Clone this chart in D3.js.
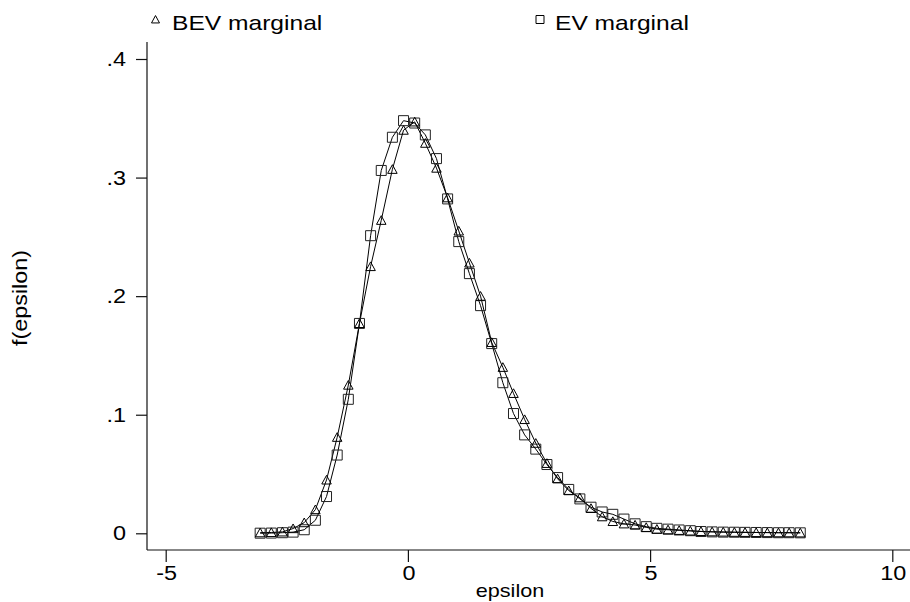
<!DOCTYPE html>
<html>
<head>
<meta charset="utf-8">
<script src="https://cdn.jsdelivr.net/npm/d3@7"></script>
<style>
  html, body { margin: 0; padding: 0; background: #fff; }
  svg { display: block; }
  text { font-family: "Liberation Sans", Arial, Helvetica, sans-serif; fill: #000; }
</style>
</head>
<body>
<script>
// ---- data ----
const epsilon = [-3.05, -2.82, -2.59, -2.37, -2.14, -1.91, -1.68, -1.46, -1.23, -1.00,
                 -0.77, -0.55, -0.32, -0.09, 0.14, 0.36, 0.59, 0.82, 1.05, 1.27,
                 1.50, 1.73, 1.96, 2.18, 2.41, 2.64, 2.87, 3.09, 3.32, 3.55,
                 3.78, 4.01, 4.23, 4.46, 4.69, 4.92, 5.14, 5.37, 5.60, 5.83,
                 6.05, 6.28, 6.51, 6.74, 6.96, 7.19, 7.42, 7.65, 7.87, 8.10];
const bevMarginal = [0.0005, 0.0007, 0.0012, 0.004, 0.009, 0.020, 0.045, 0.081, 0.125, 0.177,
                     0.225, 0.264, 0.307, 0.340, 0.347, 0.329, 0.308, 0.283, 0.255, 0.228,
                     0.200, 0.161, 0.140, 0.118, 0.096, 0.076, 0.059, 0.046, 0.036, 0.030,
                     0.021, 0.014, 0.010, 0.008, 0.007, 0.005, 0.0035, 0.003, 0.0025, 0.002,
                     0.0016, 0.0013, 0.0011, 0.0009, 0.0008, 0.0007, 0.0006, 0.0005, 0.0005, 0.0004];
const evMarginal = [0.0001, 0.0002, 0.0005, 0.001, 0.003, 0.011, 0.031, 0.066, 0.113, 0.177,
                    0.251, 0.306, 0.334, 0.348, 0.346, 0.336, 0.316, 0.282, 0.246, 0.219,
                    0.192, 0.160, 0.127, 0.101, 0.083, 0.071, 0.058, 0.047, 0.037, 0.029,
                    0.022, 0.018, 0.016, 0.012, 0.008, 0.0056, 0.0042, 0.0035, 0.0028, 0.0022,
                    0.0015, 0.0012, 0.0010, 0.0009, 0.0008, 0.0007, 0.0006, 0.0005, 0.0005, 0.0004];
const xTicks = [-5, 0, 5, 10];
const xTickLabels = ["-5", "0", "5", "10"];
const yTicks = [0, 0.1, 0.2, 0.3, 0.4];
const yTickLabels = ["0", ".1", ".2", ".3", ".4"];
const seriesNames = ["BEV marginal", "EV marginal"];
const xTitle = "epsilon";
const yTitle = "f(epsilon)";

// ---- layout ----
const W = 910, H = 602;
const SX = 1.2; // horizontal stretch of the glyphs in the reference
const svg = d3.select("body").append("svg").attr("width", W).attr("height", H);

const x = d3.scaleLinear().domain([-5, 10]).range([165.7, 892.3]);
const y = d3.scaleLinear().domain([0, 0.4]).range([533.3, 59]);
const axX = 147, axY = 550;

function label(xp, yp, s, size, anchor, rot) {
  const g = svg.append("g").attr("transform",
    `translate(${xp},${yp})` + (rot ? ` scale(1,${SX}) rotate(${rot})` : ` scale(${SX},1)`));
  g.append("text").attr("text-anchor", anchor).attr("font-size", size).text(s);
}

// axes lines
svg.append("line").attr("x1", axX).attr("x2", axX).attr("y1", 42).attr("y2", axY)
  .attr("stroke", "#111").attr("stroke-width", 1.2);
svg.append("line").attr("x1", axX).attr("x2", W).attr("y1", axY).attr("y2", axY)
  .attr("stroke", "#111").attr("stroke-width", 1.2);

// ticks through d3 axes
const yAxis = svg.append("g").attr("transform", `translate(${axX},0)`)
  .call(d3.axisLeft(y).tickValues(yTicks).tickSize(11).tickFormat(""));
yAxis.select(".domain").remove();
yAxis.selectAll(".tick line").attr("stroke", "#111").attr("stroke-width", 1.2);
const xAxis = svg.append("g").attr("transform", `translate(0,${axY})`)
  .call(d3.axisBottom(x).tickValues(xTicks).tickSize(12).tickFormat(""));
xAxis.select(".domain").remove();
xAxis.selectAll(".tick line").attr("stroke", "#111").attr("stroke-width", 1.2);

// tick labels
yTicks.forEach((v, i) => label(126, y(v) + 7, yTickLabels[i], 19.5, "end"));
xTicks.forEach((v, i) => label(x(v) + 1, 580, xTickLabels[i], 19.5, "middle"));

// axis titles
label(510, 597, xTitle, 18, "middle");
label(27, 298, yTitle, 19.5, "middle", -90);

// data
const pts = (vals) => epsilon.map((e, i) => [x(e), y(vals[i])]);
const line = d3.line().curve(d3.curveLinear);
const bevPts = pts(bevMarginal), evPts = pts(evMarginal);

svg.append("path").attr("d", line(evPts)).attr("fill", "none").attr("stroke", "#000").attr("stroke-width", 1);
svg.append("path").attr("d", line(bevPts)).attr("fill", "none").attr("stroke", "#000").attr("stroke-width", 1);

function tri(cx, cy, s) {
  const h = s * 0.86;
  return `M${cx},${cy - h / 2 - 0.5}L${cx + s / 2},${cy + h / 2}L${cx - s / 2},${cy + h / 2}Z`;
}
function sq(cx, cy, s) {
  return `M${cx - s / 2},${cy - s / 2}h${s}v${s}h${-s}Z`;
}

svg.append("g").selectAll("path").data(evPts).join("path")
  .attr("d", d => sq(d[0], d[1], 10))
  .attr("fill", "none").attr("stroke", "#222").attr("stroke-width", 1);
svg.append("g").selectAll("path").data(bevPts).join("path")
  .attr("d", d => tri(d[0], d[1], 9.5))
  .attr("fill", "none").attr("stroke", "#000").attr("stroke-width", 1);

// legend
svg.append("path").attr("d", tri(155.5, 19.5, 8)).attr("fill", "none").attr("stroke", "#000").attr("stroke-width", 1);
label(172, 30, seriesNames[0], 20.5, "start");
svg.append("path").attr("d", sq(540, 19.5, 8)).attr("fill", "none").attr("stroke", "#000").attr("stroke-width", 1);
label(555, 30, seriesNames[1], 20.5, "start");
</script>
</body>
</html>
